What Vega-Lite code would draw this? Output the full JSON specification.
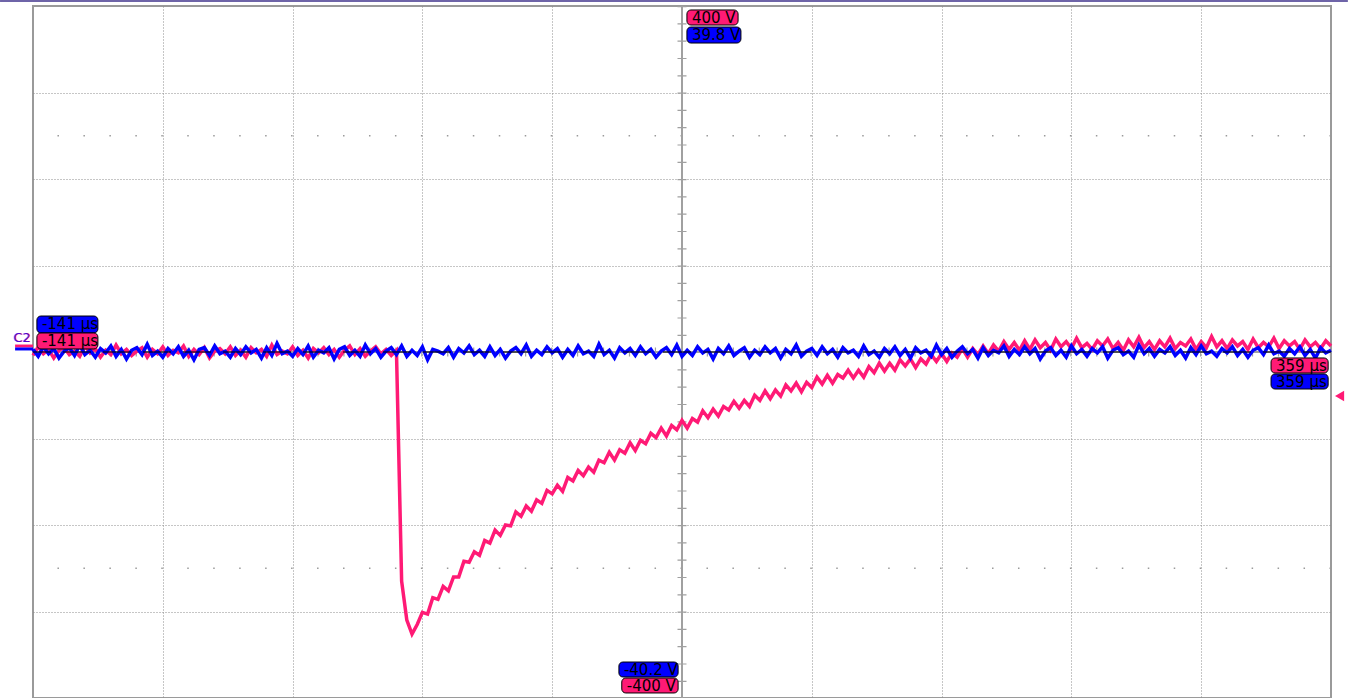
{
"$schema": "https://vega.github.io/schema/vega-lite/v6.json",
"width": 1298, "height": 692,
"autosize": {"type": "none"},
"padding": {"left": 33, "top": 6, "right": 17, "bottom": 0},
"background": "white",
"config": {"view": {"stroke": "#9a9a9a", "strokeWidth": 2}, "text": {"font": "DejaVu Sans"},
 "axis": {"labels": false, "ticks": false, "domain": false, "grid": true, "gridColor": "#8c8c8c", "gridDash": [1, 2], "gridWidth": 1, "titleColor": "transparent", "titleFontSize": 1}},
"datasets": {
"w": [
{"t":-141,"b":3,"p":-4},{"t":-139,"b":-5,"p":6},{"t":-137,"b":6,"p":-2},{"t":-135,"b":-2,"p":3},{"t":-133,"b":4,"p":-7},{"t":-131,"b":-7,"p":2},{"t":-129,"b":1,"p":5},{"t":-127,"b":5,"p":-3},{"t":-125,"b":-4,"p":1},{"t":-123,"b":8,"p":-5},
{"t":-121,"b":-3,"p":7},{"t":-119,"b":2,"p":-1},{"t":-117,"b":-6,"p":4},{"t":-115,"b":4,"p":-6},{"t":-113,"b":-1,"p":2},{"t":-111,"b":7,"p":-3},{"t":-109,"b":-5,"p":8},{"t":-107,"b":3,"p":-2},{"t":-105,"b":-8,"p":3},{"t":-103,"b":2,"p":-4},
{"t":-101,"b":5,"p":1},{"t":-99,"b":-3,"p":5},{"t":-97,"b":9,"p":-6},{"t":-95,"b":-4,"p":3},{"t":-93,"b":1,"p":-2},{"t":-91,"b":-6,"p":6},{"t":-89,"b":4,"p":-4},{"t":-87,"b":-2,"p":2},{"t":-85,"b":6,"p":-1},{"t":-83,"b":-5,"p":7},
{"t":-81,"b":2,"p":-5},{"t":-79,"b":-9,"p":3},{"t":-77,"b":3,"p":-3},{"t":-75,"b":5,"p":5},{"t":-73,"b":-4,"p":-7},{"t":-71,"b":7,"p":1},{"t":-69,"b":-2,"p":4},{"t":-67,"b":1,"p":-2},{"t":-65,"b":-6,"p":6},{"t":-63,"b":4,"p":-4},
{"t":-61,"b":-3,"p":2},{"t":-59,"b":6,"p":-6},{"t":-57,"b":-1,"p":5},{"t":-55,"b":3,"p":-1},{"t":-53,"b":-7,"p":3},{"t":-51,"b":5,"p":-5},{"t":-49,"b":-4,"p":8},{"t":-47,"b":10,"p":-3},{"t":-45,"b":-2,"p":1},{"t":-43,"b":1,"p":-2},
{"t":-41,"b":-5,"p":6},{"t":-39,"b":4,"p":-4},{"t":-37,"b":-3,"p":2},{"t":-35,"b":7,"p":-7},{"t":-33,"b":-6,"p":4},{"t":-31,"b":2,"p":-1},{"t":-29,"b":-1,"p":5},{"t":-27,"b":5,"p":-3},{"t":-25,"b":-8,"p":3},{"t":-23,"b":3,"p":-6},
{"t":-21,"b":6,"p":2},{"t":-19,"b":-4,"p":7},{"t":-17,"b":2,"p":-3},{"t":-15,"b":-5,"p":4},{"t":-13,"b":8,"p":-5},{"t":-11,"b":-2,"p":1},{"t":-9,"b":4,"p":6},{"t":-7,"b":-6,"p":-2},{"t":-5,"b":1,"p":3},{"t":-3,"b":5,"p":-4},
{"t":-1,"b":-3,"p":2},{"t":1,"b":7,"p":-265},{"t":3,"b":-5,"p":-310},{"t":5,"b":2,"p":-326},{"t":7,"b":-4,"p":-315},{"t":9,"b":6,"p":-301},{"t":11,"b":-9,"p":-303},{"t":13,"b":3,"p":-284},{"t":15,"b":1,"p":-286},{"t":17,"b":-2,"p":-271},
{"t":19,"b":5,"p":-276},{"t":21,"b":-6,"p":-260},{"t":23,"b":4,"p":-260},{"t":25,"b":-1,"p":-242},{"t":27,"b":7,"p":-243},{"t":29,"b":-3,"p":-231},{"t":31,"b":2,"p":-235},{"t":33,"b":-5,"p":-218},{"t":35,"b":6,"p":-221},{"t":37,"b":-4,"p":-206},
{"t":39,"b":3,"p":-212},{"t":41,"b":-7,"p":-200},{"t":43,"b":1,"p":-201},{"t":45,"b":5,"p":-185},{"t":47,"b":-2,"p":-190},{"t":49,"b":8,"p":-178},{"t":51,"b":-5,"p":-184},{"t":53,"b":2,"p":-171},{"t":55,"b":-3,"p":-175},{"t":57,"b":6,"p":-160},
{"t":59,"b":-1,"p":-164},{"t":61,"b":4,"p":-154},{"t":63,"b":-6,"p":-161},{"t":65,"b":3,"p":-145},{"t":67,"b":-4,"p":-149},{"t":69,"b":7,"p":-137},{"t":71,"b":-2,"p":-143},{"t":73,"b":1,"p":-133},{"t":75,"b":-5,"p":-139},{"t":77,"b":9,"p":-125},
{"t":79,"b":-3,"p":-128},{"t":81,"b":2,"p":-116},{"t":83,"b":-7,"p":-125},{"t":85,"b":5,"p":-113},{"t":87,"b":-1,"p":-117},{"t":89,"b":4,"p":-105},{"t":91,"b":-4,"p":-114},{"t":93,"b":6,"p":-102},{"t":95,"b":-2,"p":-106},{"t":97,"b":3,"p":-94},
{"t":99,"b":-6,"p":-99},{"t":101,"b":1,"p":-88},{"t":103,"b":5,"p":-97},{"t":105,"b":-3,"p":-85},{"t":107,"b":8,"p":-90},{"t":109,"b":-5,"p":-79},{"t":111,"b":2,"p":-88},{"t":113,"b":-4,"p":-77},{"t":115,"b":6,"p":-81},{"t":117,"b":-1,"p":-68},
{"t":119,"b":3,"p":-76},{"t":121,"b":-8,"p":-66},{"t":123,"b":4,"p":-74},{"t":125,"b":-2,"p":-63},{"t":127,"b":7,"p":-67},{"t":129,"b":-4,"p":-57},{"t":131,"b":1,"p":-65},{"t":133,"b":5,"p":-56},{"t":135,"b":-6,"p":-63},{"t":137,"b":2,"p":-50},
{"t":139,"b":-3,"p":-56},{"t":141,"b":6,"p":-45},{"t":143,"b":-1,"p":-54},{"t":145,"b":4,"p":-44},{"t":147,"b":-7,"p":-51},{"t":149,"b":3,"p":-38},{"t":151,"b":-2,"p":-45},{"t":153,"b":8,"p":-36},{"t":155,"b":-5,"p":-46},{"t":157,"b":1,"p":-35},
{"t":159,"b":4,"p":-41},{"t":161,"b":-4,"p":-29},{"t":163,"b":6,"p":-37},{"t":165,"b":-2,"p":-27},{"t":167,"b":3,"p":-36},{"t":169,"b":-6,"p":-26},{"t":171,"b":5,"p":-30},{"t":173,"b":-1,"p":-21},{"t":175,"b":2,"p":-30},{"t":177,"b":-5,"p":-21},
{"t":179,"b":7,"p":-29},{"t":181,"b":-3,"p":-17},{"t":183,"b":1,"p":-24},{"t":185,"b":-6,"p":-13},{"t":187,"b":4,"p":-22},{"t":189,"b":-2,"p":-13},{"t":191,"b":6,"p":-21},{"t":193,"b":-4,"p":-9},{"t":195,"b":3,"p":-16},{"t":197,"b":-7,"p":-8},
{"t":199,"b":5,"p":-18},{"t":201,"b":-1,"p":-8},{"t":203,"b":2,"p":-14},{"t":205,"b":-5,"p":-3},{"t":207,"b":8,"p":-11},{"t":209,"b":-3,"p":-2},{"t":211,"b":4,"p":-11},{"t":213,"b":-6,"p":-1},{"t":215,"b":1,"p":-6},{"t":217,"b":6,"p":4},
{"t":219,"b":-2,"p":-6},{"t":221,"b":3,"p":4},{"t":223,"b":-7,"p":-3},{"t":225,"b":5,"p":7},{"t":227,"b":-4,"p":-2},{"t":229,"b":2,"p":8},{"t":231,"b":-1,"p":1},{"t":233,"b":7,"p":12},{"t":235,"b":-5,"p":3},{"t":237,"b":3,"p":11},
{"t":239,"b":-3,"p":2},{"t":241,"b":6,"p":13},{"t":243,"b":-2,"p":3},{"t":245,"b":4,"p":14},{"t":247,"b":-8,"p":5},{"t":249,"b":1,"p":11},{"t":251,"b":5,"p":2},{"t":253,"b":-4,"p":15},{"t":255,"b":2,"p":6},{"t":257,"b":-6,"p":12},
{"t":259,"b":7,"p":4},{"t":261,"b":-2,"p":16},{"t":263,"b":3,"p":5},{"t":265,"b":-5,"p":10},{"t":267,"b":4,"p":3},{"t":269,"b":-1,"p":13},{"t":271,"b":6,"p":7},{"t":273,"b":-7,"p":15},{"t":275,"b":2,"p":4},{"t":277,"b":5,"p":11},
{"t":279,"b":-3,"p":2},{"t":281,"b":1,"p":14},{"t":283,"b":-6,"p":6},{"t":285,"b":8,"p":17},{"t":287,"b":-2,"p":5},{"t":289,"b":4,"p":12},{"t":291,"b":-5,"p":3},{"t":293,"b":3,"p":13},{"t":295,"b":-1,"p":6},{"t":297,"b":6,"p":16},
{"t":299,"b":-4,"p":4},{"t":301,"b":2,"p":11},{"t":303,"b":-7,"p":7},{"t":305,"b":5,"p":15},{"t":307,"b":-3,"p":3},{"t":309,"b":7,"p":12},{"t":311,"b":-2,"p":5},{"t":313,"b":1,"p":18},{"t":315,"b":-5,"p":6},{"t":317,"b":4,"p":13},
{"t":319,"b":-1,"p":4},{"t":321,"b":6,"p":14},{"t":323,"b":-4,"p":7},{"t":325,"b":3,"p":12},{"t":327,"b":-6,"p":3},{"t":329,"b":2,"p":15},{"t":331,"b":5,"p":5},{"t":333,"b":-3,"p":11},{"t":335,"b":8,"p":6},{"t":337,"b":-2,"p":16},
{"t":339,"b":1,"p":4},{"t":341,"b":-5,"p":13},{"t":343,"b":4,"p":7},{"t":345,"b":-2,"p":12},{"t":347,"b":6,"p":3},{"t":349,"b":-4,"p":14},{"t":351,"b":3,"p":6},{"t":353,"b":-7,"p":11},{"t":355,"b":5,"p":4},{"t":357,"b":-1,"p":13},
{"t":359,"b":2,"p":7}
],
"lab": [
{"txt":"400 V","ch":"p","t0":110.9,"t1":130.6,"v0":395.4,"v1":378.0},
{"txt":"39.8 V","ch":"b","t0":110.9,"t1":131.7,"v0":375.7,"v1":357.2},
{"txt":"-40.2 V","ch":"b","t0":84.7,"t1":107.5,"v0":-358.4,"v1":-375.7},
{"txt":"-400 V","ch":"p","t0":85.8,"t1":107.5,"v0":-376.9,"v1":-394.2},
{"txt":"-141 µs","ch":"b","t0":-139.5,"t1":-116.0,"v0":41.6,"v1":22.0},
{"txt":"-141 µs","ch":"p","t0":-139.5,"t1":-116.0,"v0":22.0,"v1":3.5},
{"txt":"359 µs","ch":"p","t0":335.9,"t1":357.9,"v0":-6.9,"v1":-24.3},
{"txt":"359 µs","ch":"b","t0":335.9,"t1":357.9,"v0":-25.4,"v1":-42.8}
]
},
"layer": [
{"data": {"values": [{}]}, "mark": {"type": "rule", "color": "#9a9a9a", "strokeWidth": 1.5, "strokeDash": [1.5, 24.46]},
 "encoding": {"y": {"datum": 250, "type": "quantitative"}}},
{"data": {"values": [{}]}, "mark": {"type": "rule", "color": "#9a9a9a", "strokeWidth": 1.5, "strokeDash": [1.5, 24.46]},
 "encoding": {"y": {"datum": -250, "type": "quantitative"}}},
{"data": {"values": [{}]}, "mark": {"type": "rule", "color": "#a0a0a0", "strokeWidth": 2},
 "encoding": {"x": {"datum": 109, "type": "quantitative"}}},
{"data": {"values": [{}]}, "mark": {"type": "rule", "color": "#a0a0a0", "strokeWidth": 9, "strokeDash": [1.2, 16.1], "strokeCap": "butt"},
 "encoding": {"x": {"datum": 109, "type": "quantitative"}}},
{"data": {"values": [{}]}, "mark": {"type": "rule", "color": "#a0a0a0", "strokeWidth": 2},
 "encoding": {"y": {"datum": 0, "type": "quantitative"}}},
{"data": {"values": [{}]}, "mark": {"type": "rule", "color": "#a0a0a0", "strokeWidth": 9, "strokeDash": [1.2, 24.76], "strokeCap": "butt"},
 "encoding": {"y": {"datum": 0, "type": "quantitative"}}},
{"data": {"name": "w"}, "mark": {"type": "line", "color": "#ff1a75", "strokeWidth": 3.5},
 "encoding": {
  "x": {"field": "t", "type": "quantitative", "scale": {"domain": [-141, 359], "nice": false, "zero": false},
        "axis": {"values": [-91, -41, 9, 59, 159, 209, 259, 309], "title": null}},
  "y": {"field": "p", "type": "quantitative", "scale": {"domain": [-400, 400], "nice": false, "zero": false},
        "axis": {"values": [-300, -200, -100, 100, 200, 300], "title": null}}
 }},
{"data": {"name": "w"}, "mark": {"type": "line", "color": "#0000ff", "strokeWidth": 3.5},
 "encoding": {"x": {"field": "t", "type": "quantitative"}, "y": {"field": "b", "type": "quantitative"}}},
{"data": {"values": [{}]}, "mark": {"type": "rule", "color": "#000000", "strokeWidth": 1.2, "strokeDash": [28, 12]},
 "encoding": {"y": {"datum": 0, "type": "quantitative"}}},
{"data": {"name": "lab"}, "mark": {"type": "rect", "cornerRadius": 4, "stroke": "#000000", "strokeWidth": 1},
 "encoding": {"x": {"field": "t0", "type": "quantitative"}, "x2": {"field": "t1"}, "y": {"field": "v0", "type": "quantitative"}, "y2": {"field": "v1"},
  "fill": {"field": "ch", "type": "nominal", "scale": {"domain": ["p", "b"], "range": ["#ff1a75", "#0000ff"]}, "legend": null}}},
{"data": {"name": "lab"}, "mark": {"type": "text", "align": "left", "baseline": "top", "dx": 5, "dy": 1, "fontSize": 15, "color": "#000000"},
 "encoding": {"x": {"field": "t0", "type": "quantitative"}, "y": {"field": "v0", "type": "quantitative"}, "text": {"field": "txt"}}},
{"data": {"values": [{}]}, "mark": {"type": "text", "align": "left", "baseline": "alphabetic", "fontSize": 13, "color": "#ff1a75", "dx": 1},
 "encoding": {"x": {"datum": -148.7, "type": "quantitative"}, "y": {"datum": 11.6, "type": "quantitative"}, "text": {"value": "C2"}}},
{"data": {"values": [{}]}, "mark": {"type": "text", "align": "left", "baseline": "alphabetic", "fontSize": 13, "color": "#0000ff", "opacity": 0.7},
 "encoding": {"x": {"datum": -148.7, "type": "quantitative"}, "y": {"datum": 11.6, "type": "quantitative"}, "text": {"value": "C2"}}},
{"data": {"values": [{}]}, "mark": {"type": "rule", "color": "#ff1a75", "strokeWidth": 3},
 "encoding": {"x": {"datum": -147.9, "type": "quantitative"}, "x2": {"datum": -141}, "y": {"datum": 6.9, "type": "quantitative"}}},
{"data": {"values": [{}]}, "mark": {"type": "rule", "color": "#0000ff", "strokeWidth": 3},
 "encoding": {"x": {"datum": -147.9, "type": "quantitative"}, "x2": {"datum": -141}, "y": {"datum": 3.5, "type": "quantitative"}}},
{"data": {"values": [{}]}, "mark": {"type": "point", "shape": "triangle-left", "filled": true, "color": "#ff1a75", "size": 110, "opacity": 1},
 "encoding": {"x": {"datum": 362.3, "type": "quantitative"}, "y": {"datum": -51, "type": "quantitative"}}},
{"data": {"values": [{}]}, "mark": {"type": "rule", "color": "#6e64a8", "strokeWidth": 2},
 "encoding": {"x": {"datum": -153.7, "type": "quantitative"}, "x2": {"datum": 365.5}, "y": {"datum": 405.8, "type": "quantitative"}}}
]
}
